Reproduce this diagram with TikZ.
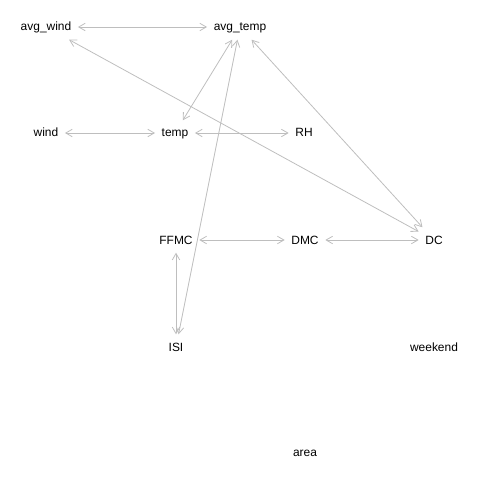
\documentclass[tikz,border=0pt]{standalone}
\usepackage{fontspec}
\setmainfont{Liberation Sans}
\usetikzlibrary{arrows.meta}
\definecolor{edgegray}{RGB}{190,190,190}
\tikzset{every node/.style={font=\fontsize{12}{14}\selectfont}}
\tikzset{var/.style={rectangle,inner xsep=6.5bp,inner ysep=0pt,text height=9bp,text depth=1bp,minimum height=25bp}}
\tikzset{both/.style={draw=edgegray,line width=0.8bp,{Straight Barb[angle=60:7.5bp]}-{Straight Barb[angle=60:7.5bp]}}}

\begin{document}
\begin{tikzpicture}[x=1bp,y=-1bp,node distance=129bp]

\useasboundingbox (0,0) rectangle (480,480);

\node[var] (avg_wind) at (46,27) {avg\_wind};
\node[var] (avg_temp) at (240,27) {avg\_temp} edge[both] (avg_wind);
\node[var] (wind) at (46,133) {wind};
\node[var] [right of=wind] (temp) {temp} edge[both] (wind) edge[both] (avg_temp);
\node[var] [right of=temp] (RH) {RH} edge[both] (temp);
\node[var] (FFMC) at (176,240) {FFMC};
\node[var] [right of=FFMC] (DMC) {DMC} edge[both] (FFMC);
\node[var] [right of=DMC] (DC) {DC} edge[both] (DMC) edge[both] (avg_wind) edge[both] (avg_temp);
\node[var] (ISI) at (176,347) {ISI} edge[both] (FFMC) edge[both] (avg_temp);
\node[var] (weekend) at (434,347) {weekend};
\node[var] (area) at (305,452) {area};

\end{tikzpicture}
\end{document}
